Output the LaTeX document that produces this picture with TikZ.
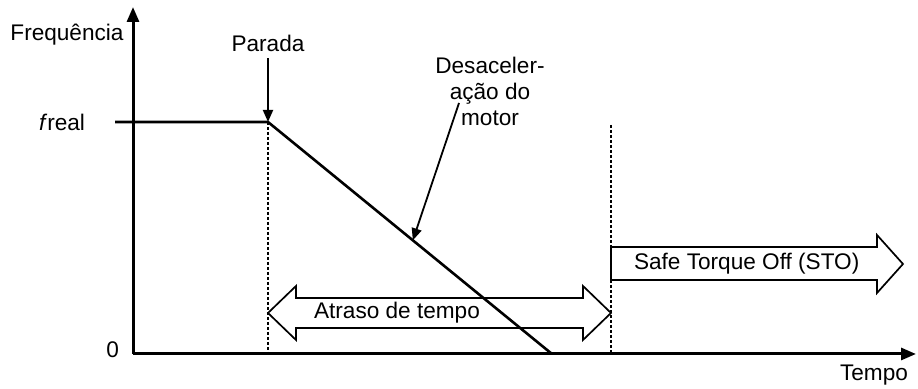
\documentclass[tikz,border=0pt]{standalone}
\usepackage{fontspec}
\setmainfont{Liberation Sans}
\usetikzlibrary{arrows.meta,calc}
\begin{document}
\begin{tikzpicture}[x = 0.5pt, y = 0.5pt, font = \fontsize{11.3}{13}\selectfont,
        axis/.style = {line width = 1.5pt, -{Triangle[length = 7.5pt, width = 6pt]}},
        curve/.style = {line width = 1.3pt},
        pointer/.style = {line width = 0.9pt, -{Triangle[length = 6pt, width = 5pt]}},
        guide/.style = {line width = 0.6pt, dash pattern = on 1.5pt off 1pt},
        arrowbox/.style = {line width = 0.85pt, fill = white}]
        \useasboundingbox (0,0) rectangle (918,389);
        \coordinate (origin) at (133,35);
        \coordinate (ytop) at (133,382);
        \coordinate (xend) at (916,35);
        \coordinate (stop) at (268,267);
        \coordinate (halt) at (552,35);
        % arrows for the time spans
        \draw [arrowbox] (268,76) -- (296,103) -- (296,91) -- (583,91) -- (583,103) -- (611,76)
            -- (583,49) -- (583,61) -- (296,61) -- (296,49) -- cycle;
        \draw [arrowbox] (611,142) -- (877,142) -- (877,154) -- (903,125) -- (877,96)
            -- (877,109) -- (611,109) -- cycle;
        \draw [guide] (stop) -- (268,35);
        \draw [guide] (611,264) -- (611,35);
        \draw [axis] (origin) -- (ytop);
        \draw [axis] (origin) -- (xend);
        \draw [curve] (115,267) -- (stop) -- (halt);
        \node (freq) at (67,354) {Frequência};
        \node [anchor = east] (freal) at (92,267) {\textit{f}real};
        \node [anchor = east] (zero) at (126,39) {0};
        \node [anchor = east] (tempo) at (915,14) {Tempo};
        \node (parada) at (268,346) {Parada};
        \node [align = center] (desac) at (490,298) {Desaceler-\\ação do\\motor};
        \node [anchor = west] (atraso) at (307,76) {Atraso de tempo};
        \node [anchor = west] (sto) at (627,125) {Safe Torque Off (STO)};
        \coordinate (dstart) at (459,286);
        \coordinate (dtip) at ($(stop)!0.51!(halt)$);
        \draw [pointer] (parada.south) -- (stop);
        \draw [pointer] (dstart) -- (dtip);
\end{tikzpicture}
\end{document}
